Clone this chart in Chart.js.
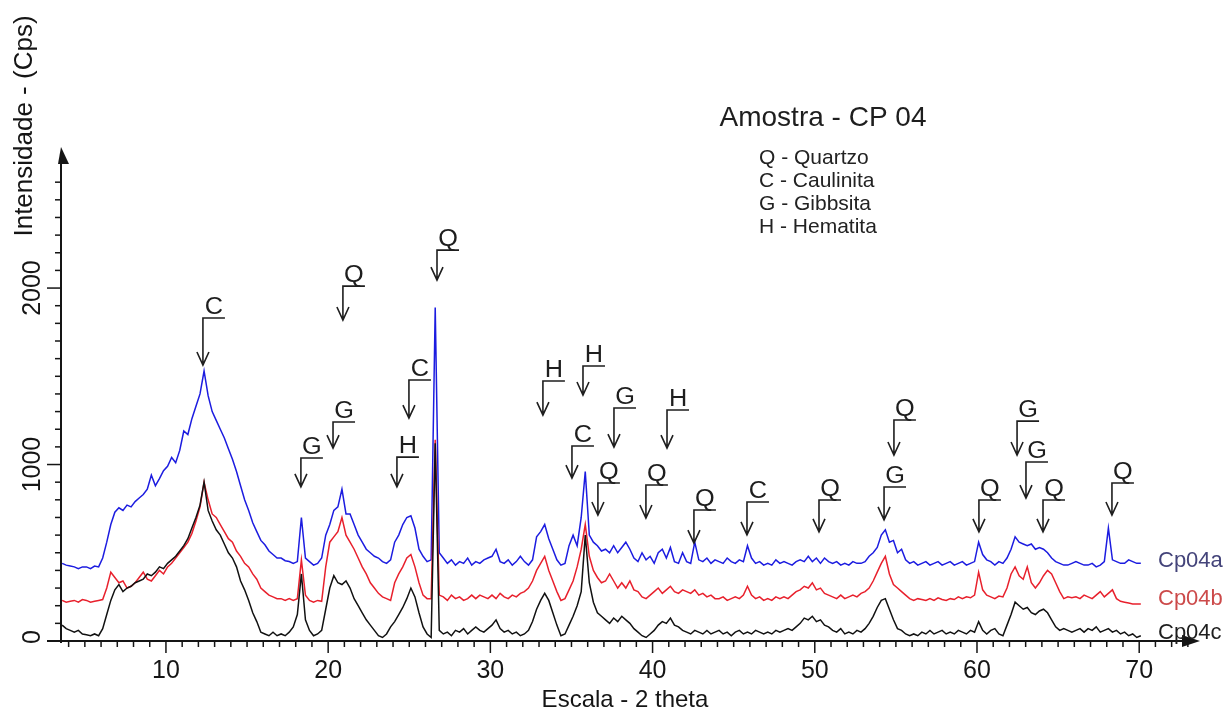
<!DOCTYPE html>
<html>
<head>
<meta charset="utf-8">
<script src="https://cdn.jsdelivr.net/npm/chart.js@4.4.1/dist/chart.umd.min.js"></script>
<style>
  html, body { margin: 0; padding: 0; background: #fff; }
  canvas { display: block; }
</style>
</head>
<body>
<canvas id="xrd" width="1225" height="711"></canvas>
<script>
// ===== dados (2 theta, passo 0.25) =====
const twoTheta = [
  3.6, 3.85,
  4.1, 4.35, 4.6, 4.85,  5.1, 5.35, 5.6, 5.85,  6.1, 6.35, 6.6, 6.85,  7.1, 7.35, 7.6, 7.85,
  8.1, 8.35, 8.6, 8.85,  9.1, 9.35, 9.6, 9.85,  10.1, 10.35, 10.6, 10.85,  11.1, 11.35, 11.6, 11.85,
  12.1, 12.35, 12.6, 12.85,  13.1, 13.35, 13.6, 13.85,  14.1, 14.35, 14.6, 14.85,  15.1, 15.35, 15.6, 15.85,
  16.1, 16.35, 16.6, 16.85,  17.1, 17.35, 17.6, 17.85,  18.1, 18.35, 18.6, 18.85,  19.1, 19.35, 19.6, 19.85,
  20.1, 20.35, 20.6, 20.85,  21.1, 21.35, 21.6, 21.85,  22.1, 22.35, 22.6, 22.85,  23.1, 23.35, 23.6, 23.85,
  24.1, 24.35, 24.6, 24.85,  25.1, 25.35, 25.6, 25.85,  26.1, 26.35, 26.6, 26.85,  27.1, 27.35, 27.6, 27.85,
  28.1, 28.35, 28.6, 28.85,  29.1, 29.35, 29.6, 29.85,  30.1, 30.35, 30.6, 30.85,  31.1, 31.35, 31.6, 31.85,
  32.1, 32.35, 32.6, 32.85,  33.1, 33.35, 33.6, 33.85,  34.1, 34.35, 34.6, 34.85,  35.1, 35.35, 35.6, 35.85,
  36.1, 36.35, 36.6, 36.85,  37.1, 37.35, 37.6, 37.85,  38.1, 38.35, 38.6, 38.85,  39.1, 39.35, 39.6, 39.85,
  40.1, 40.35, 40.6, 40.85,  41.1, 41.35, 41.6, 41.85,  42.1, 42.35, 42.6, 42.85,  43.1, 43.35, 43.6, 43.85,
  44.1, 44.35, 44.6, 44.85,  45.1, 45.35, 45.6, 45.85,  46.1, 46.35, 46.6, 46.85,  47.1, 47.35, 47.6, 47.85,
  48.1, 48.35, 48.6, 48.85,  49.1, 49.35, 49.6, 49.85,  50.1, 50.35, 50.6, 50.85,  51.1, 51.35, 51.6, 51.85,
  52.1, 52.35, 52.6, 52.85,  53.1, 53.35, 53.6, 53.85,  54.1, 54.35, 54.6, 54.85,  55.1, 55.35, 55.6, 55.85,
  56.1, 56.35, 56.6, 56.85,  57.1, 57.35, 57.6, 57.85,  58.1, 58.35, 58.6, 58.85,  59.1, 59.35, 59.6, 59.85,
  60.1, 60.35, 60.6, 60.85,  61.1, 61.35, 61.6, 61.85,  62.1, 62.35, 62.6, 62.85,  63.1, 63.35, 63.6, 63.85,
  64.1, 64.35, 64.6, 64.85,  65.1, 65.35, 65.6, 65.85,  66.1, 66.35, 66.6, 66.85,  67.1, 67.35, 67.6, 67.85,
  68.1, 68.35, 68.6, 68.85,  69.1, 69.35, 69.6, 69.85,
  70.1
];

// Cp04a (azul)
const cp04a = [
  440, 430,
  425, 420, 410, 420,   420, 410, 425, 420,   470, 560, 660, 730,   755, 740, 770, 760,
  790, 810, 830, 860,   940, 880, 920, 965,   990, 1040, 1010, 1080,  1190, 1170, 1260, 1330,
  1400, 1530, 1390, 1300,  1250, 1200, 1150, 1090,  1030, 960, 880, 800,  740, 670, 620, 570,
  545, 510, 490, 470,   470, 455, 450, 440,   450, 700, 470, 450,   430, 440, 470, 600,
  660, 740, 760, 860,   720, 720, 660, 600,   560, 520, 500, 480,   470, 450, 440, 460,
  560, 600, 660, 700,   710, 640, 520, 480,   450, 460, 1890, 500,  470, 440, 460, 430,
  450, 440, 470, 430,   450, 440, 460, 470,   480, 520, 450, 440,   460, 430, 450, 480,
  450, 430, 460, 590,   620, 660, 580, 520,   460, 430, 440, 540,   600, 540, 700, 960,
  600, 560, 540, 510,   520, 500, 540, 500,   530, 560, 520, 470,   450, 500, 460, 480,
  440, 500, 520, 470,   530, 450, 440, 500,   450, 440, 560, 460,   450, 470, 440, 460,
  450, 440, 470, 450,   440, 460, 450, 540,   470, 440, 450, 430,   440, 430, 460, 440,
  450, 440, 430, 450,   460, 450, 480, 450,   470, 440, 470, 450,   440, 450, 430, 440,
  430, 450, 440, 440,   450, 480, 500, 530,   600, 630, 560, 570,   500, 520, 460, 440,
  450, 430, 440, 450,   430, 440, 450, 430,   440, 450, 430, 440,   450, 430, 440, 450,
  560, 490, 460, 450,   430, 450, 440, 470,   520, 590, 560, 550,   540, 550, 520, 530,
  520, 500, 470, 450,   440, 430, 430, 440,   450, 440, 430, 430,   440, 420, 430, 450,
  640, 460, 450, 440,   440, 460, 450, 440,
  440
];

// Cp04b (vermelho)
const cp04b = [
  230, 220,
  225, 230, 220, 235,   230, 220, 225, 230,   235, 300, 390, 360,   330, 340, 300, 310,
  330, 360, 390, 350,   340, 370, 400, 380,   420, 440, 470, 500,   530, 560, 610, 680,
  760, 900, 800, 720,   700, 660, 620, 580,   560, 510, 480, 440,   420, 380, 350, 300,
  280, 260, 250, 240,   240, 230, 240, 230,   240, 460, 260, 230,   220, 230, 225, 420,
  560, 590, 620, 700,   600, 560, 520, 470,   420, 380, 330, 300,   270, 250, 240, 230,
  330, 380, 420, 470,   490, 420, 330, 260,   240, 240, 1140, 260,  250, 230, 260, 240,
  250, 230, 240, 260,   240, 260, 250, 240,   260, 240, 270, 250,   240, 260, 250, 270,
  280, 300, 340, 400,   440, 480, 400, 340,   280, 230, 240, 290,   340, 420, 520, 660,
  480, 400, 360, 330,   340, 380, 340, 300,   330, 300, 340, 290,   280, 250, 240, 260,
  280, 300, 270, 290,   310, 280, 270, 290,   280, 270, 290, 260,   270, 250, 260, 240,
  240, 250, 230, 240,   250, 240, 260, 310,   260, 240, 250, 230,   240, 230, 250, 240,
  250, 240, 260, 280,   290, 310, 300, 330,   290, 300, 270, 260,   250, 240, 260, 240,
  250, 260, 250, 270,   280, 300, 340, 390,   440, 480, 380, 320,   300, 280, 260, 240,
  230, 240, 235, 230,   240, 230, 245, 235,   230, 240, 235, 250,   240, 250, 245, 260,
  390, 290, 260, 250,   240, 255, 250, 300,   380, 420, 370, 350,   420, 330, 300, 330,
  370, 400, 380, 330,   280, 240, 250, 245,   250, 240, 260, 250,   240, 260, 280, 250,
  270, 290, 240, 225,   220, 215, 210, 210,
  210
];

// Cp04c (preto)
const cp04c = [
  90, 70,
  60, 50, 60, 40,   35, 30, 40, 30,   70, 150, 230, 290,   320, 280, 300, 310,
  330, 340, 350, 380,   370, 390, 420, 410,   440, 460, 480, 510,   540, 580, 640, 700,
  770, 900, 740, 680,   630, 600, 550, 500,   470, 420, 340, 290,   230, 160, 110, 50,
  40, 30, 50, 30,   40, 30, 50, 80,   150, 380, 120, 60,   30, 40, 60, 180,
  300, 370, 330, 320,   340, 300, 240, 200,   160, 120, 90, 60,   30, 20, 40, 80,
  110, 150, 190, 240,   300, 250, 160, 80,   40, 20, 1120, 60,   40, 50, 30, 60,
  50, 70, 40, 60,   80, 60, 50, 70,   90, 120, 70, 50,   60, 40, 50, 30,
  40, 60, 110, 180,   230, 270, 230, 160,   90, 30, 40, 90,   140, 200, 280, 600,
  330, 220, 160, 140,   120, 100, 130, 110,   140, 120, 100, 70,   50, 30, 20, 40,
  60, 90, 110, 100,   130, 90, 80, 60,   50, 40, 60, 50,   40, 60, 40, 50,
  60, 40, 50, 30,   50, 60, 40, 50,   40, 60, 50, 40,   50, 40, 60, 50,
  60, 70, 60, 80,   100, 130, 120, 140,   110, 120, 90, 80,   60, 50, 70, 40,
  50, 40, 60, 50,   70, 100, 140, 190,   230, 240, 180, 120,   70, 60, 40, 30,
  40, 30, 50, 40,   60, 40, 50, 60,   40, 50, 40, 60,   50, 40, 60, 50,
  110, 60, 40, 60,   70, 40, 30, 90,   150, 220, 200, 180,   190, 160, 150, 170,
  180, 160, 120, 80,   60, 70, 60, 50,   60, 70, 50, 70,   60, 80, 50, 60,
  70, 50, 60, 40,   50, 30, 40, 20,
  30
];

const seriesNames = ['Cp04a', 'Cp04b', 'Cp04c'];
const xTickLabels = [10, 20, 30, 40, 50, 60, 70];
const yTickLabels = [0, 1000, 2000];

// ===== picos identificados (letra, 2 theta, topo da seta, ponta da seta) =====
const markLetter = ['C','G','G','Q','H','C','Q','H','H','C','G','Q','H','Q','Q','C','Q','Q','G','Q','G','G','Q','Q'];
const markAngle  = [12.28,18.32,20.30,20.91,24.24,24.98,26.71,33.24,35.71,35.03,37.62,36.63,40.89,39.59,42.55,45.82,50.26,54.88,54.27,60.12,62.47,63.02,64.07,68.32];
const markTop    = [1830,1037,1241,2011,1042,1479,2215,1473,1558,1105,1320,895,1309,884,742,788,799,1252,873,799,1246,1014,799,895];
const markTip    = [1564,873,1093,1819,873,1263,2045,1280,1394,923,1099,714,1093,697,555,601,618,1054,686,618,1054,810,618,714];

const legendLines = ['Q - Quartzo', 'C - Caulinita', 'G - Gibbsita', 'H - Hematita'];

const FONT = '"Liberation Sans", Arial, sans-serif';

function toPoints(vals) {
    return twoTheta.map((t, i) => ({ x: t, y: vals[i] }));
}

function drawText(ctx, str, x, y, size, color, opts = {}) {
    ctx.save();
    ctx.translate(x, y);
    if (opts.rot) ctx.rotate(opts.rot);
    if (opts.sx) ctx.scale(opts.sx, 1);
    ctx.font = `${size}px ${FONT}`;
    ctx.fillStyle = color;
    ctx.textAlign = opts.align || 'center';
    ctx.textBaseline = opts.base || 'middle';
    ctx.fillText(str, 0, 0);
    ctx.restore();
}

// ===== eixos, setas e textos =====
const xrdDecor = {
    id: 'xrdDecor',
    beforeDraw(chart) {
        const ctx = chart.ctx;
        ctx.save();
        ctx.fillStyle = '#fff';
        ctx.fillRect(0, 0, chart.width, chart.height);
        ctx.restore();
    },
    afterDatasetsDraw(chart) {
        const { ctx, scales: { x, y } } = chart;
        const x0 = x.left;
        const yb = y.getPixelForValue(0);
        ctx.save();
        ctx.strokeStyle = '#151515';
        ctx.fillStyle = '#151515';
        ctx.lineWidth = 2;

        // eixo y
        ctx.beginPath();
        ctx.moveTo(x0, yb + 2);
        ctx.lineTo(x0, y.top);
        ctx.stroke();
        ctx.beginPath();
        ctx.moveTo(x0, y.top - 8);
        ctx.lineTo(x0 + 8, y.top + 9);
        ctx.lineTo(x0 - 3, y.top + 9);
        ctx.closePath();
        ctx.fill();

        // eixo x
        ctx.beginPath();
        ctx.moveTo(x0 - 14, yb);
        ctx.lineTo(x.right - 6, yb);
        ctx.stroke();
        ctx.beginPath();
        ctx.moveTo(x.right + 5, yb);
        ctx.lineTo(x.right - 13, yb - 6);
        ctx.lineTo(x.right - 13, yb + 6);
        ctx.closePath();
        ctx.fill();

        // marcas do eixo x
        ctx.lineWidth = 1.5;
        for (let t = 4; t <= 73; t++) {
            const px = x.getPixelForValue(t);
            const major = t % 10 === 0;
            ctx.beginPath();
            ctx.moveTo(px, yb - (major ? 0 : 1));
            ctx.lineTo(px, yb + (major ? 12 : 6));
            ctx.stroke();
        }
        // marcas do eixo y
        for (let v = 100; v <= 2600; v += 100) {
            const py = y.getPixelForValue(v);
            const major = v % 1000 === 0;
            ctx.beginPath();
            ctx.moveTo(x0 - (major ? 14 : 6), py);
            ctx.lineTo(x0 + 1, py);
            ctx.stroke();
        }

        xTickLabels.forEach(v => {
            drawText(ctx, String(v), x.getPixelForValue(v), yb + 30, 25, '#151515');
        });
        yTickLabels.forEach(v => {
            drawText(ctx, String(v), 33, y.getPixelForValue(v) - (v === 0 ? 4 : 0), 25, '#151515', { rot: -Math.PI / 2 });
        });

        drawText(ctx, 'Escala - 2 theta', 625, 700, 24, '#151515');
        drawText(ctx, 'Intensidade - (Cps)', 25, 126, 26, '#151515', { rot: -Math.PI / 2 });

        // setas dos picos
        ctx.lineWidth = 1.6;
        ctx.strokeStyle = '#1e1e1e';
        markLetter.forEach((L, i) => {
            const px = x.getPixelForValue(markAngle[i]);
            const pt = y.getPixelForValue(markTop[i]);
            const pb = y.getPixelForValue(markTip[i]);
            ctx.beginPath();
            ctx.moveTo(px + 22, pt);
            ctx.lineTo(px, pt);
            ctx.lineTo(px, pb);
            ctx.moveTo(px - 6, pb - 13);
            ctx.lineTo(px, pb);
            ctx.lineTo(px + 6, pb - 13);
            ctx.stroke();
            drawText(ctx, L, px + 11, pt - 4, 23, '#1e1e1e', { base: 'alphabetic', sx: 1.1 });
        });

        // titulo e legenda
        drawText(ctx, 'Amostra - CP 04', 823, 118, 28, '#1e1e1e');
        legendLines.forEach((s, i) => {
            drawText(ctx, s, 759, 158 + i * 23, 21, '#222', { align: 'left' });
        });

        // nomes das series
        const nameColors = ['#44447a', '#cc4a4a', '#1e1e1e'];
        const nameY = [561, 599, 633];
        seriesNames.forEach((s, i) => {
            drawText(ctx, s, 1158, nameY[i], 22, nameColors[i], { align: 'left' });
        });
        ctx.restore();
    }
};

new Chart(document.getElementById('xrd'), {
    type: 'line',
    data: {
        datasets: [
            { label: seriesNames[0], data: toPoints(cp04a), borderColor: '#1c1ce0', order: 3 },
            { label: seriesNames[1], data: toPoints(cp04b), borderColor: '#e8202c', order: 2 },
            { label: seriesNames[2], data: toPoints(cp04c), borderColor: '#111111', order: 1 }
        ]
    },
    options: {
        responsive: false,
        animation: false,
        devicePixelRatio: 1,
        layout: { padding: { left: 61, right: 30, top: 155, bottom: 70 } },
        elements: {
            point: { radius: 0 },
            line: { borderWidth: 1.5, tension: 0 }
        },
        plugins: { legend: { display: false }, tooltip: { enabled: false } },
        scales: {
            x: { type: 'linear', min: 3.53, max: 73.44, display: false },
            y: { type: 'linear', min: 0, max: 2754, display: false }
        }
    },
    plugins: [xrdDecor]
});
</script>
</body>
</html>
